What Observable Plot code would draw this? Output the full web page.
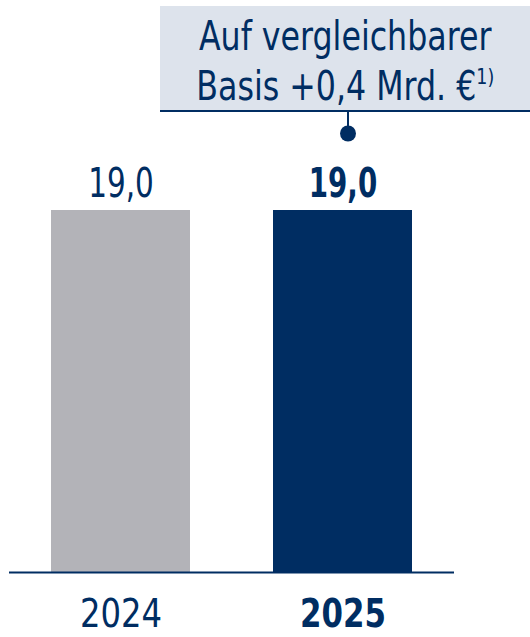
<!DOCTYPE html>
<html>
<head>
<meta charset="utf-8">
<script src="https://cdn.jsdelivr.net/npm/d3@7"></script>
<script src="https://cdn.jsdelivr.net/npm/@observablehq/plot@0.6"></script>
<style>
  html, body { margin: 0; padding: 0; background: #fff; }
  #wrap { width: 530px; height: 637px; overflow: hidden; font-family: "DejaVu Sans Condensed", "DejaVu Sans", sans-serif; }
  #note {
    margin-top: 6px; margin-left: 160px; width: 370px; height: 106px;
    background: #dde3ec; border-bottom: 2px solid #002d62; box-sizing: border-box;
    color: #002d62; font-size: 40px; line-height: 50px; text-align: center;
    padding-top: 5px; white-space: nowrap;
  }
  #note .ln { display: block; }
  #note .sq { display: inline-block; transform: scaleX(0.88); transform-origin: center; }
  #note sup { font-size: 22px; line-height: 0; vertical-align: 16px; }
  svg { display: block; }
</style>
</head>
<body>
<div id="wrap">
  <div id="note"><span class="ln"><span class="sq">Auf vergleichbarer</span></span><span class="ln"><span class="sq">Basis +0,4 Mrd. €<sup>1)</sup></span></span></div>
  <div id="chart"></div>
</div>
<script>
const categories = ["2024", "2025"];
const values = [19.0, 19.0];
const valueLabels = ["19,0", "19,0"];
const highlighted = ["2025"];

const navy = "#002d62";
const gray = "#b3b3b8";
const data = categories.map((c, i) => ({year: c, value: values[i], label: valueLabels[i], bold: highlighted.includes(c)}));

const chart = Plot.plot({
  width: 530,
  height: 525,
  marginTop: 0,
  marginBottom: 65,
  marginLeft: 9,
  marginRight: 76,
  style: {fontFamily: "'DejaVu Sans Condensed', 'DejaVu Sans', sans-serif", background: "transparent"},
  x: {domain: categories, paddingInner: 0.372, paddingOuter: 0.184, axis: null},
  y: {domain: [0, 19 * 460 / 362], axis: null},
  marks: [
    Plot.barY(data, {x: "year", y: "value", fill: d => d.bold ? navy : gray}),
    Plot.ruleY([0], {stroke: navy, strokeWidth: 2}),
    Plot.text(data.filter(d => !d.bold), {x: "year", y: "value", text: "label", lineAnchor: "bottom", dy: -14, fontSize: 40, fill: navy}),
    Plot.text(data.filter(d => d.bold), {x: "year", y: "value", text: "label", lineAnchor: "bottom", dy: -14, fontSize: 40, fontWeight: "bold", fill: navy}),
    Plot.text(data.filter(d => !d.bold), {x: "year", text: "year", frameAnchor: "bottom", lineAnchor: "bottom", dy: 54, fontSize: 39, fill: navy}),
    Plot.text(data.filter(d => d.bold), {x: "year", text: "year", frameAnchor: "bottom", lineAnchor: "bottom", dy: 54, fontSize: 39, fontWeight: "bold", fill: navy}),
    Plot.ruleX(highlighted, {x: d => d, dx: 5, insetBottom: 439, stroke: navy, strokeWidth: 2}),
    Plot.dot(highlighted, {x: d => d, dx: 5, frameAnchor: "top", dy: 21, r: 8, fill: navy, stroke: "none"})
  ]
});

// horizontally condense glyphs to mimic the narrow DIN-like typeface
const squeeze = [0.82, 0.77, 0.92, 0.88]; // value regular, value bold, year regular, year bold
const textGroups = Array.from(chart.querySelectorAll("g")).filter(g => g.querySelector(":scope > text"));
textGroups.forEach((g, gi) => {
  const k = squeeze[gi];
  if (k == null) return;
  g.querySelectorAll(":scope > text").forEach(el => {
    const t = el.getAttribute("transform") || "";
    const x = +(el.getAttribute("x") || 0);
    el.removeAttribute("x");
    el.setAttribute("transform", (t + ` translate(${x},0) scale(${k},1)`).trim());
  });
});
document.getElementById("chart").appendChild(chart);
</script>
</body>
</html>
